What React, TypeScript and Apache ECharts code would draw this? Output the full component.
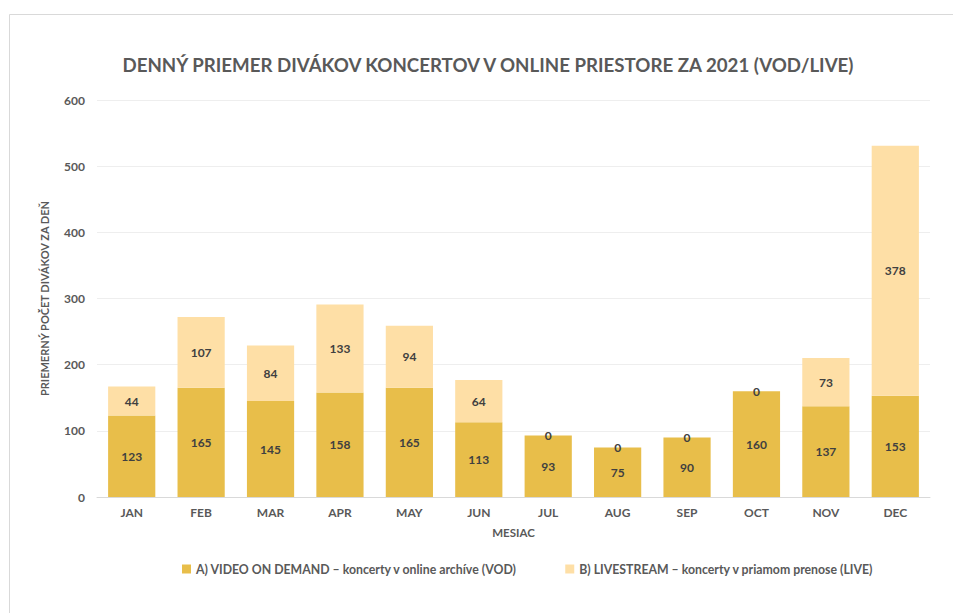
import React, { useEffect, useRef } from "react";
import * as echarts from "echarts";

const months = ["JAN", "FEB", "MAR", "APR", "MAY", "JUN", "JUL", "AUG", "SEP", "OCT", "NOV", "DEC"];
const vod = [123, 165, 145, 158, 165, 113, 93, 75, 90, 160, 137, 153];
const live = [44, 107, 84, 133, 94, 64, 0, 0, 0, 0, 73, 378];
const seriesNames = [
  "A) VIDEO ON DEMAND – koncerty v online archíve (VOD)",
  "B) LIVESTREAM – koncerty v priamom prenose (LIVE)",
];
const titleText = "DENNÝ PRIEMER DIVÁKOV KONCERTOV V ONLINE PRIESTORE ZA 2021 (VOD/LIVE)";
const yName = "PRIEMERNÝ POČET DIVÁKOV ZA DEŇ";
const xName = "MESIAC";

const FONT = "Lato, 'Open Sans', sans-serif";

export default function App() {
  const ref = useRef<HTMLDivElement>(null);
  useEffect(() => {
    if (!ref.current) return;
    const chart = echarts.init(ref.current, undefined, { renderer: "svg" });
    const labelStyle = {
      show: true,
      position: "inside" as const,
      color: "#404040",
      fontWeight: "bold" as const,
      fontSize: 12,
      fontFamily: FONT,
    };
    chart.setOption({
      animation: false,
      backgroundColor: "#ffffff",
      textStyle: { fontFamily: FONT },
      graphic: [
        {
          type: "rect",
          shape: { x: 9.5, y: 14.5, width: 1000, height: 700 },
          style: { fill: "none", stroke: "#d9d9d9", lineWidth: 1 },
          silent: true,
        },
      ],
      title: {
        text: titleText,
        left: 483,
        textAlign: "center",
        top: 50,
        textStyle: { fontFamily: FONT, fontSize: 18.7, fontWeight: "bold", color: "#595959" },
      },
      legend: {
        left: 177,
        top: 558,
        itemWidth: 9,
        itemHeight: 9,
        itemGap: 48,
        icon: "rect",
        textStyle: { fontFamily: FONT, fontSize: 12.3, fontWeight: "bold", color: "#595959" },
        data: seriesNames,
      },
      grid: { left: 97, right: 23, top: 100, bottom: 116, containLabel: false },
      xAxis: {
        type: "category",
        data: months,
        name: xName,
        nameLocation: "middle",
        nameGap: 29,
        nameTextStyle: { fontFamily: FONT, fontSize: 11.5, fontWeight: "bold", color: "#595959" },
        axisLine: { lineStyle: { color: "#d9d9d9" } },
        axisTick: { show: false },
        axisLabel: { fontFamily: FONT, fontSize: 12, fontWeight: "bold", color: "#595959", margin: 9 },
      },
      yAxis: {
        type: "value",
        min: 0,
        max: 600,
        interval: 100,
        name: yName,
        nameLocation: "middle",
        nameGap: 47,
        nameTextStyle: { fontFamily: FONT, fontSize: 11, fontWeight: "bold", color: "#595959" },
        axisLine: { show: false },
        axisTick: { show: false },
        axisLabel: { fontFamily: FONT, fontSize: 12, fontWeight: "bold", color: "#595959", margin: 12 },
        splitLine: { lineStyle: { color: "#eeeeee" } },
      },
      series: [
        {
          name: seriesNames[0],
          type: "bar",
          stack: "total",
          data: vod,
          barWidth: "68%",
          itemStyle: { color: "#E8BE4A" },
          label: labelStyle,
        },
        {
          name: seriesNames[1],
          type: "bar",
          stack: "total",
          data: live,
          barWidth: "68%",
          itemStyle: { color: "#FEDFA6" },
          label: labelStyle,
        },
      ],
    });
    return () => chart.dispose();
  }, []);
  return (
    <div
      ref={ref}
      style={{ position: "fixed", left: 0, top: 0, width: 953, height: 613 }}
    />
  );
}
